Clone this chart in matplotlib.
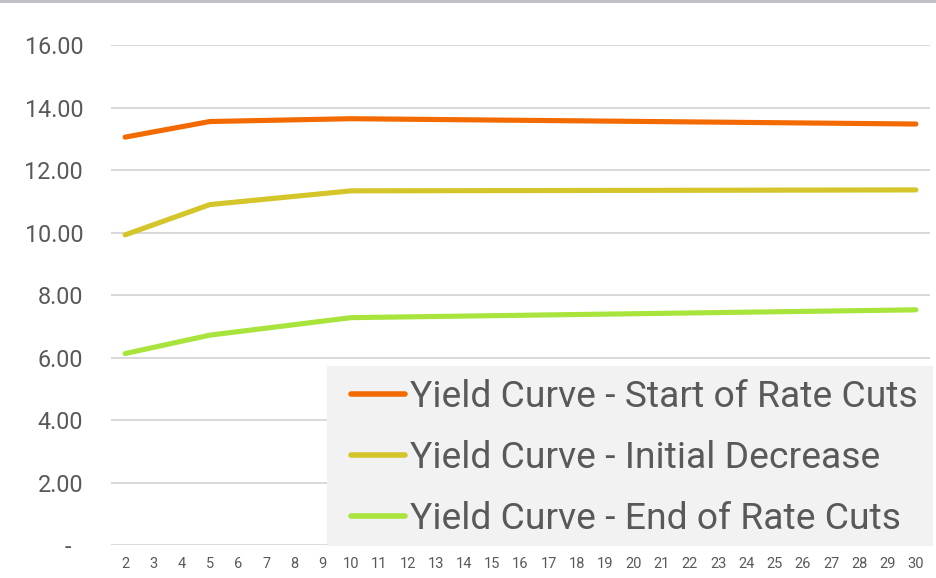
import matplotlib
matplotlib.use("Agg")
import matplotlib.pyplot as plt
from matplotlib.patches import Rectangle

plt.rcParams['font.family'] = ['Roboto', 'DejaVu Sans']

# Maturities (years) shown on the category axis
maturities = list(range(2, 31))
# Maturities that carry yield observations
obs_years = [2, 5, 10, 30]

start_of_cuts = [13.06, 13.56, 13.65, 13.48]
initial_decrease = [9.93, 10.90, 11.34, 11.37]
end_of_cuts = [6.13, 6.72, 7.28, 7.53]

series_names = [
    "Yield Curve - Start of Rate Cuts",
    "Yield Curve - Initial Decrease",
    "Yield Curve - End of Rate Cuts",
]
series_values = [start_of_cuts, initial_decrease, end_of_cuts]
series_colors = ["#F26A00", "#D4C52A", "#A8E43C"]

y_ticks = [0, 2, 4, 6, 8, 10, 12, 14, 16]
y_tick_labels = ["-  ", "2.00", "4.00", "6.00", "8.00", "10.00", "12.00", "14.00", "16.00"]

text_color = "#595959"
grid_color = "#D9D9D9"

W, H = 936, 578
fig = plt.figure(figsize=(W / 100, H / 100), dpi=100)
ax = fig.add_axes([0.1186, 0.0571, 0.9936 - 0.1186, 0.9216 - 0.0571])

for name, vals, col in zip(series_names, series_values, series_colors):
    ax.plot(obs_years, vals, color=col, lw=3.7, solid_capstyle='round',
            solid_joinstyle='round', label=name, zorder=3)

ax.set_xlim(1.5, 30.5)
ax.set_ylim(0, 16)
ax.set_xticks(maturities)
ax.set_xticklabels([str(m) for m in maturities], fontsize=10.5, color=text_color)
ax.set_yticks(y_ticks)
ax.set_yticklabels(y_tick_labels, fontsize=16.8, color=text_color)
ax.tick_params(axis='both', length=0)
ax.tick_params(axis='y', pad=20)
ax.tick_params(axis='x', pad=9)

ax.grid(axis='y', color=grid_color, lw=1.4, zorder=0)
for s in ax.spines.values():
    s.set_visible(False)

# legend background panel
fig.add_artist(Rectangle((327 / W, 1 - 546 / H), 606 / W, 180 / H, transform=fig.transFigure,
                         facecolor="#F2F2F2", edgecolor='none', zorder=4))

leg = fig.legend(loc='center left', bbox_to_anchor=(351 / W, 1 - 458 / H),
                 fontsize=26.8, frameon=False,
                 handlelength=1.45, handletextpad=0.14, borderpad=0, labelspacing=0.66,
                 borderaxespad=0)
leg.set_zorder(5)
for t in leg.get_texts():
    t.set_color(text_color)
for h in leg.get_lines():
    h.set_linewidth(4)
    h.set_solid_capstyle('round')

# thin band along the top edge
fig.add_artist(Rectangle((0, 1 - 3.3 / H), 1, 3.3 / H, transform=fig.transFigure,
                         facecolor="#C1C0C7", edgecolor='none'))

fig.savefig("out.png", dpi=100)
